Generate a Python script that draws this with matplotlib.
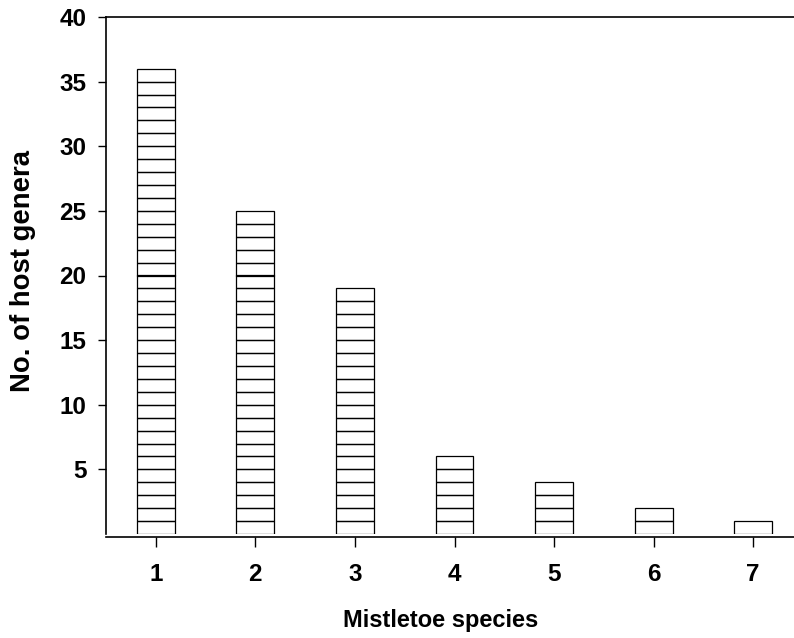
import numpy as np
import matplotlib.pyplot as plt

# mistletoe species count vs number of host genera
species = [1, 2, 3, 4, 5, 6, 7]
host_genera = [36, 25, 19, 6, 4, 2, 1]
y_ticks = [5, 10, 15, 20, 25, 30, 35, 40]

plt.rcParams['font.family'] = ['Liberation Sans', 'DejaVu Sans']
plt.rcParams['font.weight'] = 'bold'

W, H = 794, 638
fig = plt.figure(figsize=(W / 100, H / 100), dpi=100)
ax = fig.add_axes([106 / W, (H - 534) / H, 697 / W, 517 / H])

# each bar is a stack of unit boxes
for x, n in zip(species, host_genera):
    ax.bar([x] * n, 1, bottom=np.arange(n), width=0.38,
           fill=False, edgecolor='black', linewidth=0.9)

ax.set_xlim(0.5, 7.5)
ax.set_ylim(0, 40)
ax.set_xticks(species)
ax.set_yticks(y_ticks)
ax.tick_params(labelsize=17.5, length=6, width=1, pad=8)
ax.tick_params(axis='x', length=7, pad=12)
for lab in ax.get_xticklabels() + ax.get_yticklabels():
    lab.set_fontweight('bold')

ax.spines['right'].set_visible(False)
ax.spines['bottom'].set_position(('outward', 2))
for s in ['left', 'top', 'bottom']:
    ax.spines[s].set_linewidth(1.2)

fig.text(441 / W, 1 - 621 / H, 'Mistletoe species', ha='center', va='center',
         fontsize=17, fontweight='bold')
fig.text(23 / W, 1 - 271 / H, 'No. of host genera', ha='center', va='center',
         rotation=90, fontsize=19.8, fontweight='bold')

fig.savefig('out.png', dpi=100)
